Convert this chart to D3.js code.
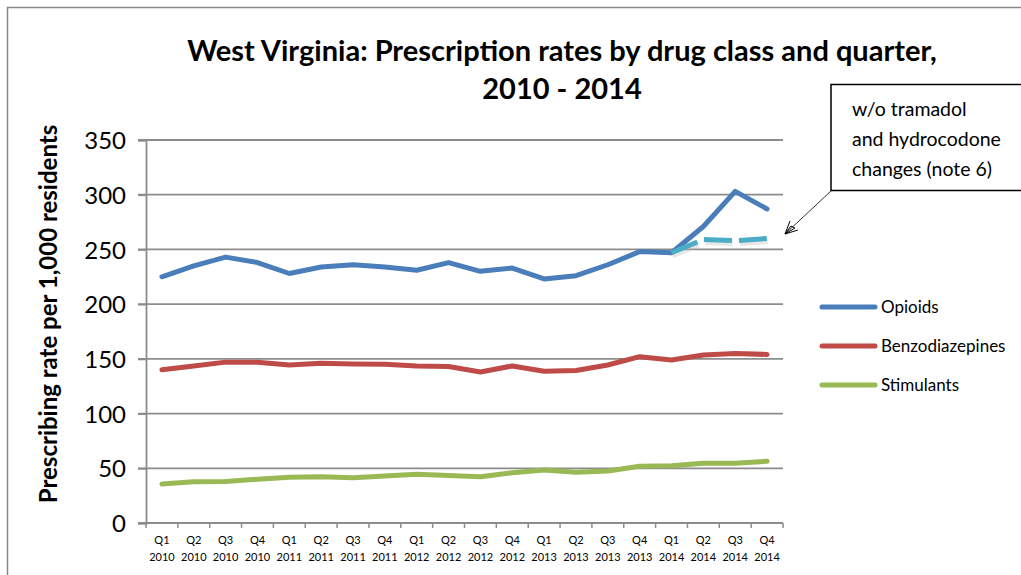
<!DOCTYPE html>
<html><head><meta charset="utf-8">
<script src="https://cdn.jsdelivr.net/npm/d3@7"></script>
<style>
body{margin:0;background:#fff;}
svg{display:block;font-family:Lato, "Open Sans", sans-serif;}
</style></head>
<body><svg id="c" width="1021" height="575"></svg>
<script>
const quarters = ["Q1","Q2","Q3","Q4","Q1","Q2","Q3","Q4","Q1","Q2","Q3","Q4","Q1","Q2","Q3","Q4","Q1","Q2","Q3","Q4"];
const years = ["2010","2010","2010","2010","2011","2011","2011","2011","2012","2012","2012","2012","2013","2013","2013","2013","2014","2014","2014","2014"];
const categories = quarters.map((q,i)=>q+" "+years[i]);
const opioids = [225,235,243,238,228,234,236,234,231,238,230,233,223,226,236,248,247,271,303,287];
const benzodiazepines = [140,143.5,147,147,144.4,146,145.3,145,143.5,143,138,143.5,138.6,139.3,144.4,152,149,153.6,155,154];
const stimulants = [35.6,37.8,38,40,41.8,42.3,41.4,43,44.5,43.3,42.3,46,48.4,46.3,47.5,51.8,52.4,54.6,54.6,56.4];
const adjustedCategories = ["Q1 2014","Q2 2014","Q3 2014","Q4 2014"];
const opioidsAdjusted = [247,259,258,260];
const yTicks = [0,50,100,150,200,250,300,350];
const seriesNames = ["Opioids","Benzodiazepines","Stimulants"];
const colors = ["#4A7EBB","#BE4B48","#98B954"];
const adjColor = "#4BACC6";

const svg = d3.select("#c");
const L=146, R=783, T=140, B=523;
const x = d3.scaleBand().domain(categories).range([L,R]).padding(0);
const cx = d => x(d)+x.bandwidth()/2;
const y = d3.scaleLinear().domain([0,350]).range([B,T]);

// frame
svg.append("path").attr("d","M7.5,575 L7.5,7.5 L1021,7.5").attr("fill","none").attr("stroke","#888").attr("stroke-width",1.5);

// title
svg.append("text").attr("x",562).attr("y",61).attr("text-anchor","middle").attr("font-weight","bold").attr("font-size",29).text("West Virginia: Prescription rates by drug class and quarter,");
svg.append("text").attr("x",562).attr("y",99).attr("text-anchor","middle").attr("font-weight","bold").attr("font-size",29).text("2010 - 2014");

// gridlines
svg.append("g").selectAll("line").data(yTicks.filter(d=>d>0)).join("line")
  .attr("x1",L-8).attr("x2",R).attr("y1",d=>y(d)).attr("y2",d=>y(d))
  .attr("stroke","#8c8c8c").attr("stroke-width",1.8);
// y axis
const yAxis = d3.axisLeft(y).tickValues(yTicks).tickSize(8).tickPadding(12);
const gy = svg.append("g").attr("transform",`translate(${L},0)`).call(yAxis);
gy.select(".domain").attr("stroke","#8c8c8c").attr("stroke-width",1.8);
gy.selectAll(".tick line").attr("stroke","#8c8c8c").attr("stroke-width",1.8);
gy.selectAll(".tick text").attr("font-size",24).attr("font-family","Lato, sans-serif").attr("fill","#000").attr("dy","0.36em");

// x axis
svg.append("line").attr("x1",L-8).attr("x2",R).attr("y1",B).attr("y2",B).attr("stroke","#8c8c8c").attr("stroke-width",1.8);
const bounds = categories.map(d=>x(d)).concat([x(categories[categories.length-1])+x.bandwidth()]);
svg.append("g").selectAll("line").data(bounds).join("line")
  .attr("x1",d=>d).attr("x2",d=>d).attr("y1",B).attr("y2",B+5)
  .attr("stroke","#8c8c8c").attr("stroke-width",1.5);
const xl = svg.append("g").selectAll("text").data(categories).join("text")
  .attr("text-anchor","middle").attr("font-size",11).attr("fill","#000");
xl.append("tspan").attr("x",d=>cx(d)).attr("y",544).text((d,i)=>quarters[i]);
xl.append("tspan").attr("x",d=>cx(d)).attr("y",561).text((d,i)=>years[i]);

// y title
svg.append("text").attr("transform","translate(57,314) rotate(-90)").attr("text-anchor","middle")
  .attr("font-weight","bold").attr("font-size",24).text("Prescribing rate per 1,000 residents");

// lines
const line = d3.line().x((d,i)=>cx(categories[i])).y(d=>y(d));
[opioids,benzodiazepines,stimulants].forEach((s,k)=>{
  svg.append("path").datum(s).attr("d",line).attr("fill","none").attr("stroke",colors[k])
    .attr("stroke-width",5).attr("stroke-linejoin","round").attr("stroke-linecap","round");
});
const adjLine = d3.line().x((d,i)=>cx(adjustedCategories[i])).y(d=>y(d));
svg.append("path").datum(opioidsAdjusted).attr("d",adjLine).attr("fill","none").attr("stroke","#bbb")
  .attr("stroke-width",5).attr("stroke-dasharray","28,7").attr("opacity",0.35).attr("transform","translate(1,3)");
svg.append("path").datum(opioidsAdjusted).attr("d",adjLine).attr("fill","none").attr("stroke",adjColor)
  .attr("stroke-width",5).attr("stroke-dasharray","28,7");

// legend
const lg = svg.append("g").selectAll("g").data(seriesNames).join("g")
  .attr("transform",(d,i)=>`translate(822,${307+i*39})`);
lg.append("line").attr("x1",0).attr("x2",53).attr("stroke",(d,i)=>colors[i]).attr("stroke-width",5).attr("stroke-linecap","round");
lg.append("text").attr("x",59).attr("dy","0.35em").attr("font-size",17).text(d=>d);

// callout
svg.append("rect").attr("x",831).attr("y",84.5).attr("width",200).attr("height",106).attr("fill","#fff").attr("stroke","#000").attr("stroke-width",1.5);
const ct = ["w/o tramadol","and hydrocodone","changes (note 6)"];
svg.append("g").selectAll("text").data(ct).join("text").attr("x",852).attr("y",(d,i)=>116+i*30)
  .attr("font-size",19.5).text(d=>d);
svg.append("line").attr("x1",831).attr("y1",191).attr("x2",785).attr("y2",234).attr("stroke","#000").attr("stroke-width",0.8);
svg.append("path").attr("d","M785,234 L790,221 M785,234 L798,230 M785,234 L791,226 L795,228 Z").attr("fill","none").attr("stroke","#000").attr("stroke-width",1);
</script></body></html>
